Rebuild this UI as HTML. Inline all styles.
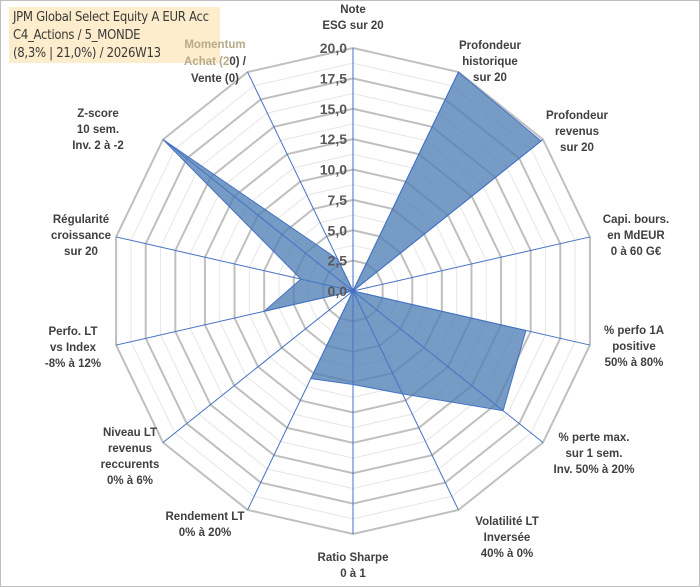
<!DOCTYPE html>
<html><head><meta charset="utf-8"><style>
body{margin:0;background:#fff;}
#wrap{position:relative;width:700px;height:587px;overflow:hidden;font-family:"Liberation Sans",sans-serif;}
.lbl{position:absolute;font-weight:bold;font-size:11.5px;color:#404040;text-align:center;line-height:16px;white-space:nowrap;transform:translateX(-50%);}
</style></head><body>
<div id="wrap">
<svg id="svg" width="700" height="587" style="position:absolute;left:0;top:0">
<rect x="0.5" y="0.5" width="699" height="586" fill="#fff" stroke="#bfbfbf"/>
<g id="grid"></g><g id="series"></g><g id="axes"></g><g id="ticks"></g>
</svg>
<div style="position:absolute;left:9px;top:7px;width:211px;height:56px;background:#fdebc6;opacity:0.9"></div>
<div style="position:absolute;left:13px;top:9px;font-family:'DejaVu Sans Condensed','Liberation Sans',sans-serif;font-size:13px;line-height:18px;color:#3a3a3a;letter-spacing:-0.3px">JPM Global Select Equity A EUR Acc<br>C4_Actions / 5_MONDE<br>(8,3% | 21,0%) / 2026W13</div>
<div class="lbl" style="left:353px;top:2px">Note<br>ESG sur 20</div>
<div class="lbl" style="left:490px;top:38px">Profondeur<br>historique<br>sur 20</div>
<div class="lbl" style="left:577px;top:108px">Profondeur<br>revenus<br>sur 20</div>
<div class="lbl" style="left:636px;top:212px">Capi. bours.<br>en MdEUR<br>0 à 60 G€</div>
<div class="lbl" style="left:634px;top:323px">% perfo 1A<br>positive<br>50% à 80%</div>
<div class="lbl" style="left:594px;top:430px">% perte max.<br>sur 1 sem.<br>Inv. 50% à 20%</div>
<div class="lbl" style="left:507px;top:514px">Volatilité LT<br>Inversée<br>40% à 0%</div>
<div class="lbl" style="left:353px;top:550px">Ratio Sharpe<br>0 à 1</div>
<div class="lbl" style="left:205px;top:509px">Rendement LT<br>0% à 20%</div>
<div class="lbl" style="left:130px;top:425px">Niveau LT<br>revenus<br>reccurents<br>0% à 6%</div>
<div class="lbl" style="left:73px;top:324px">Perfo. LT<br>vs Index<br>-8% à 12%</div>
<div class="lbl" style="left:81px;top:212px">Régularité<br>croissance<br>sur 20</div>
<div class="lbl" style="left:98px;top:106px">Z-score<br>10 sem.<br>Inv. 2 à -2</div>
<div class="lbl" style="left:215px;top:37px;line-height:17px"><span style="color:#b8a98a">Momentum<br>Achat (2</span>0) /<br>Vente (0)</div>
</div>
<script>
const categories=["Note ESG","Profondeur historique","Profondeur revenus","Capi. bours.","% perfo 1A","% perte max.","Volatilité LT","Ratio Sharpe","Rendement LT","Niveau LT","Perfo. LT","Régularité","Z-score","Momentum"];
const values=[0,20,19.8,0,14.6,15.8,9.4,7.7,8.0,0,7.5,4.4,20,2.9];
const tickValues=[0,2.5,5,7.5,10,12.5,15,17.5,20];
const tickLabels=["0,0","2,5","5,0","7,5","10,0","12,5","15,0","17,5","20,0"];
const cx=353,cy=291,R=243,maxV=20,NS="http://www.w3.org/2000/svg";
const n=categories.length;
function ang(i){return 2*Math.PI*i/n;}
function pt(i,v){const r=v/maxV*R;return [cx+r*Math.sin(ang(i)),cy-r*Math.cos(ang(i))];}
function mk(tag,attrs,parent){const e=document.createElementNS(NS,tag);for(const k in attrs)e.setAttribute(k,attrs[k]);parent.appendChild(e);return e;}
const grid=document.getElementById('grid');
for(let k=1;k<=16;k++){const v=k*1.25;const ps=categories.map((c,i)=>pt(i,v).join(',')).join(' ');
 const major=k%2===0;
 const g=mk('polygon',{points:ps,fill:'none',stroke:major?'#bfbfbf':'#e6e6e6','stroke-width':major?2:1},grid);
 
 }
const ser=document.getElementById('series');
const poly=mk('polygon',{points:values.map((v,i)=>pt(i,v).join(',')).join(' '),fill:'#4f7fb5','fill-opacity':0.78,stroke:'#4472c4','stroke-width':1},ser);


const axes=document.getElementById('axes');
categories.forEach((c,i)=>{const p=pt(i,maxV);const l=mk('line',{x1:cx,y1:cy,x2:p[0],y2:p[1],stroke:'#4472c4','stroke-width':1},axes);
 
 });
const tk=document.getElementById('ticks');
tickValues.forEach((v,j)=>{const p=pt(0,v);const t=mk('text',{x:cx-6,y:p[1]+5,'text-anchor':'end','font-family':'Liberation Sans, sans-serif','font-size':'14','font-weight':'bold',fill:'#595959'},tk);
 t.textContent=tickLabels[j];
 
 });
</script>
</body></html>
